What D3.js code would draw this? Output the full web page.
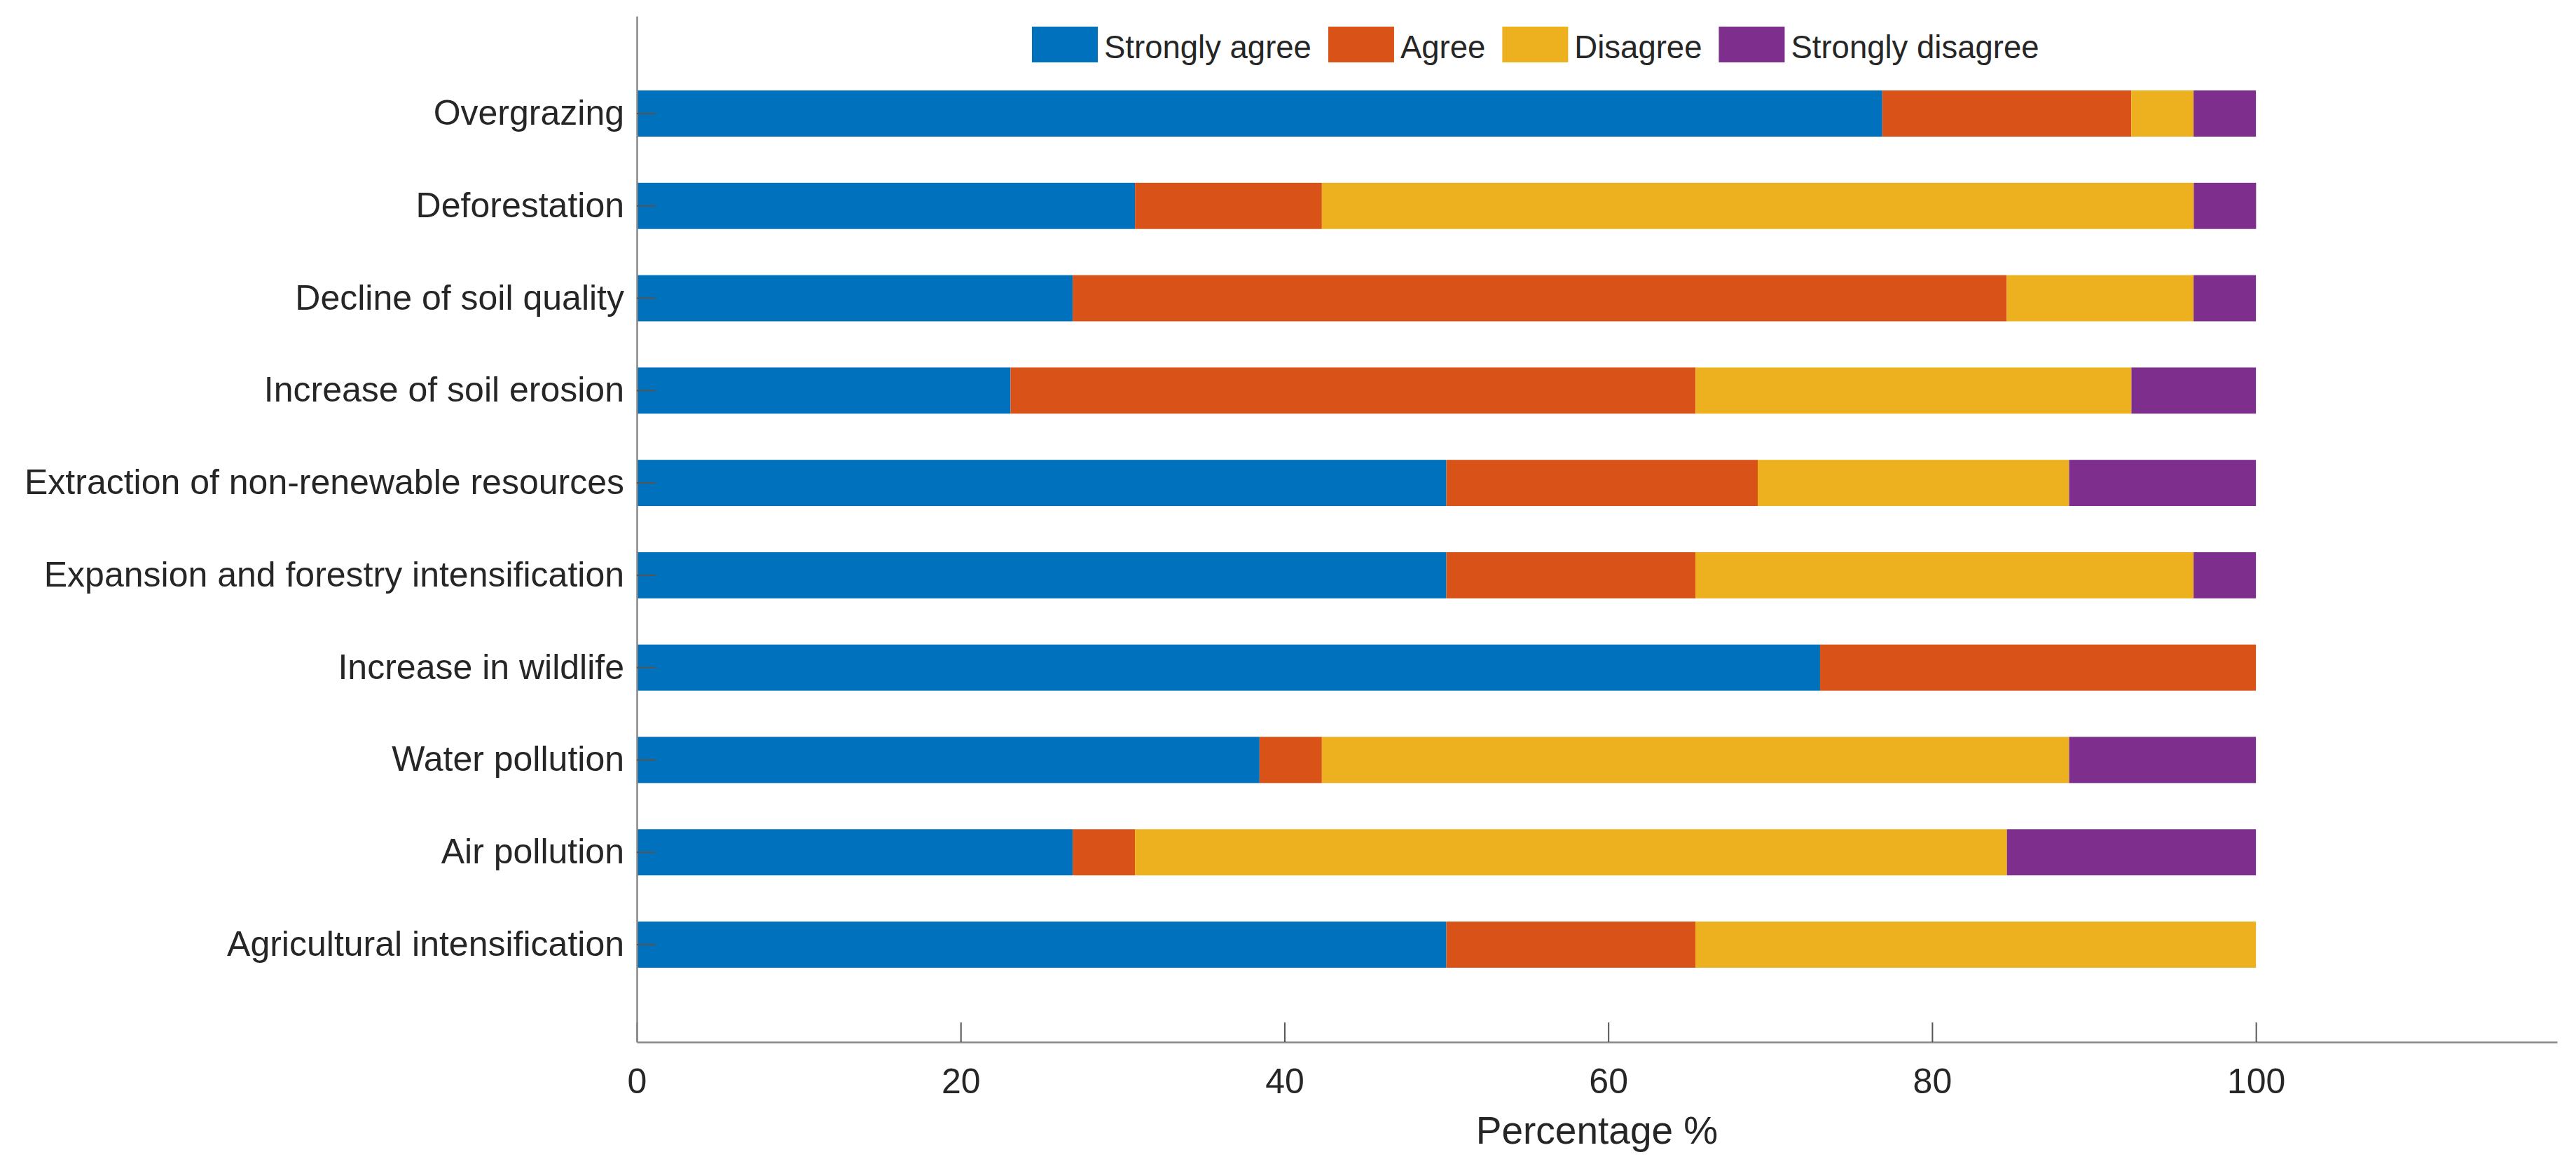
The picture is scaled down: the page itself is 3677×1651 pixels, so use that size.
<!DOCTYPE html>
<html>
<head>
<meta charset="utf-8">
<script src="https://cdn.jsdelivr.net/npm/d3@7"></script>
<style>
    body { margin: 0; background: #fff; }
    text { font-family: "Liberation Sans", Arial, sans-serif; fill: #262626; }
</style>
</head>
<body>
<svg id="chart"></svg>
<script>
// categories from top to bottom
let categories = ["Overgrazing", "Deforestation", "Decline of soil quality", "Increase of soil erosion",
    "Extraction of non-renewable resources", "Expansion and forestry intensification",
    "Increase in wildlife", "Water pollution", "Air pollution", "Agricultural intensification"];

// percentages per answer
let stronglyAgree = [76.92, 30.77, 26.92, 23.08, 50.00, 50.00, 73.08, 38.46, 26.92, 50.00];
let agree = [15.38, 11.54, 57.69, 42.31, 19.23, 15.38, 26.92, 3.85, 3.85, 15.38];
let disagree = [3.85, 53.85, 11.54, 26.92, 19.23, 30.77, 0, 46.15, 53.85, 34.62];
let stronglyDisagree = [3.85, 3.85, 3.85, 7.69, 11.54, 3.85, 0, 11.54, 15.38, 0];

let seriesNames = ["Strongly agree", "Agree", "Disagree", "Strongly disagree"];
let colors = ["#0072BD", "#D95319", "#EDB120", "#7E2F8E"];
let xTicks = [0, 20, 40, 60, 80, 100];

let svgWidth = 3677, svgHeight = 1651;

//build rows for the stack
let rows = categories.map(function (c, i) {
    return {
        "cat": c,
        "Strongly agree": stronglyAgree[i],
        "Agree": agree[i],
        "Disagree": disagree[i],
        "Strongly disagree": stronglyDisagree[i]
    };
});

let svg = d3.select("svg")
    .attr("width", svgWidth)
    .attr("height", svgHeight);

let x = d3.scaleLinear()
    .domain([0, 118.6])
    .range([909, 3650]);

let y = d3.scaleBand()
    .domain(categories)
    .range([23, 1487])
    .paddingInner(0.5)
    .paddingOuter(0.805);

let stacked = d3.stack().keys(seriesNames)(rows);

//bars
svg.append("g")
    .selectAll("g")
    .data(stacked)
    .enter().append("g")
    .attr("fill", function (d, i) { return colors[i]; })
    .selectAll("rect")
    .data(function (d) { return d; })
    .enter().append("rect")
    .attr("x", function (d) { return x(d[0]); })
    .attr("y", function (d) { return y(d.data.cat); })
    .attr("width", function (d) { return x(d[1]) - x(d[0]); })
    .attr("height", y.bandwidth());

//x axis
let xAxis = svg.append("g")
    .attr("transform", "translate(0,1487)")
    .call(d3.axisBottom(x).tickValues(xTicks).tickSize(-28).tickSizeOuter(0).tickPadding(37));
xAxis.selectAll("text").style("font-size", "50px");

//y axis
let yAxis = svg.append("g")
    .attr("transform", "translate(909,0)")
    .call(d3.axisLeft(y).tickSize(-27).tickSizeOuter(0).tickPadding(18));
yAxis.selectAll("text").style("font-size", "50px");

svg.selectAll(".domain").attr("stroke", "#888").attr("stroke-width", 2.5);
svg.selectAll(".tick line").attr("stroke", "#555").attr("stroke-width", 2);
svg.selectAll(".tick text").attr("fill", "#262626");

//axis title
svg.append("text")
    .attr("x", (909 + 3650) / 2)
    .attr("y", 1632)
    .attr("text-anchor", "middle")
    .style("font-size", "55px")
    .text("Percentage %");

//legend
let legend = svg.append("g");
let lx = 1473;
seriesNames.forEach(function (name, i) {
    legend.append("rect")
        .attr("x", lx)
        .attr("y", 38)
        .attr("width", 94)
        .attr("height", 51)
        .attr("fill", colors[i]);
    let t = legend.append("text")
        .attr("x", lx + 103)
        .attr("y", 83)
        .style("font-size", "45.5px")
        .text(name);
    lx = lx + 103 + t.node().getComputedTextLength() + 24;
});
</script>
</body>
</html>
